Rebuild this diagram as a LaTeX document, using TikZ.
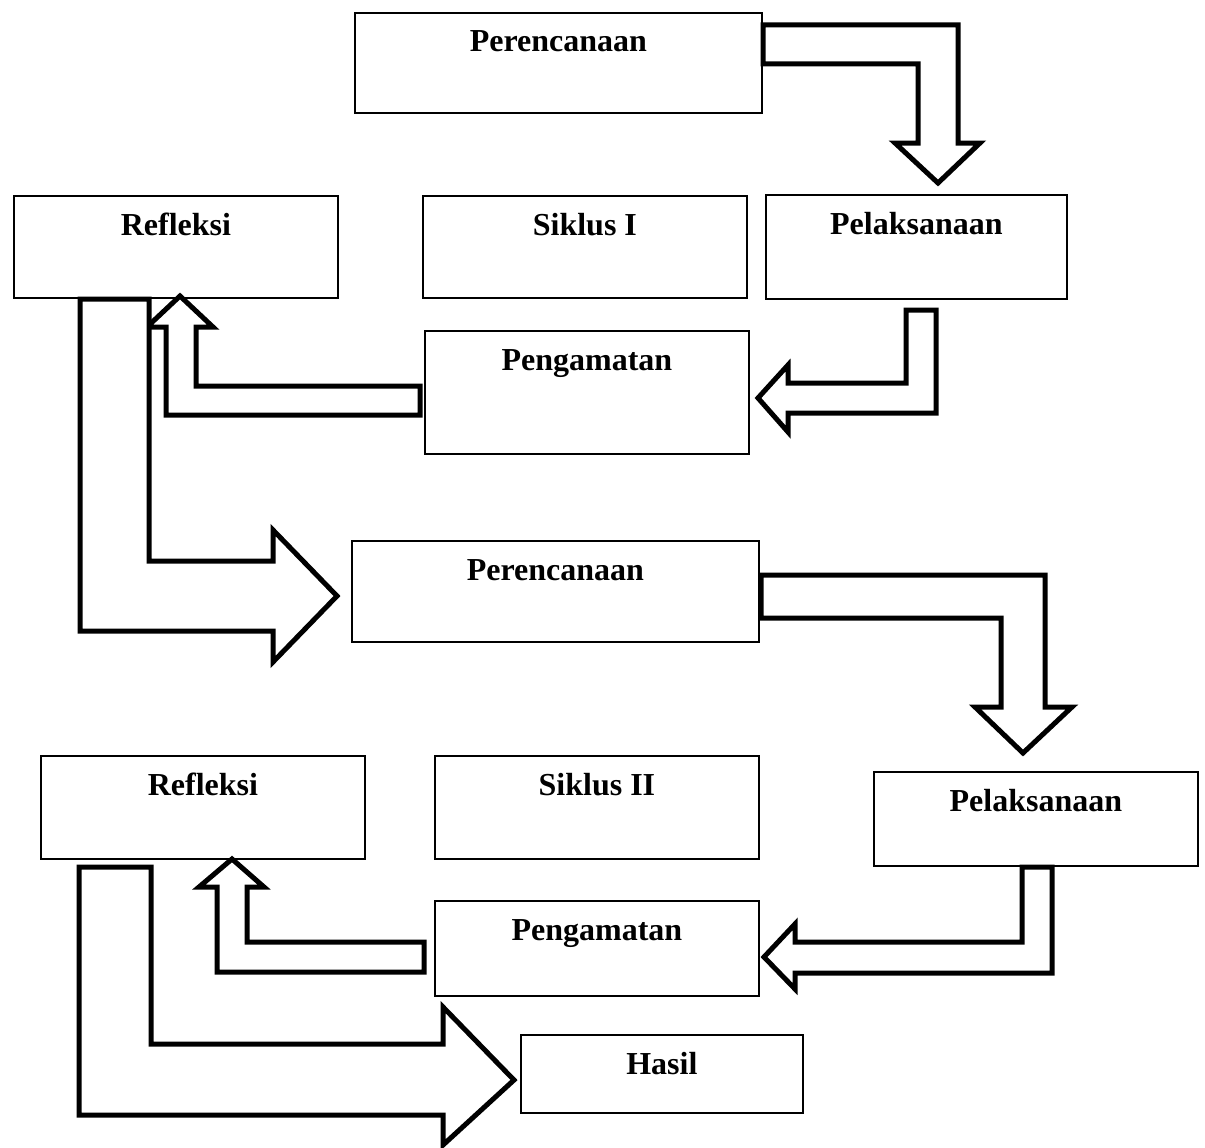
\documentclass[tikz,border=0pt]{standalone}
\usepackage{fontspec}
\setmainfont{Liberation Serif}
\begin{document}
\begin{tikzpicture}[x=1pt,y=-1pt,
  box/.style={draw, line width=1.8pt, rectangle, inner sep=0pt, anchor=north west},
  lbl/.style={anchor=base, yshift=-40pt, inner sep=0pt, font=\bfseries\fontsize{32}{38}\selectfont},
  blockarrow/.style={draw, line width=5pt, fill=white, line join=miter, miter limit=10}]
\useasboundingbox (0,0) rectangle (1205,1148);
% boxes
\node[box, minimum width=407pt, minimum height=100pt, label={[lbl]north:Perencanaan}] (p1) at (354,12) {};
\node[box, minimum width=324pt, minimum height=102pt, label={[lbl]north:Refleksi}] (r1) at (13,195) {};
\node[box, minimum width=324pt, minimum height=102pt, label={[lbl]north:Siklus I}] (s1) at (422,195) {};
\node[box, minimum width=301pt, minimum height=104pt, label={[lbl]north:Pelaksanaan}] (l1) at (765,194) {};
\node[box, minimum width=324pt, minimum height=123pt, label={[lbl]north:Pengamatan}] (g1) at (424,330) {};
\node[box, minimum width=407pt, minimum height=101pt, label={[lbl]north:Perencanaan}] (p2) at (351,540) {};
\node[box, minimum width=324pt, minimum height=103pt, label={[lbl]north:Refleksi}] (r2) at (40,755) {};
\node[box, minimum width=324pt, minimum height=103pt, label={[lbl]north:Siklus II}] (s2) at (434,755) {};
\node[box, minimum width=324pt, minimum height=94pt, label={[lbl]north:Pelaksanaan}] (l2) at (873,771) {};
\node[box, minimum width=324pt, minimum height=95pt, label={[lbl]north:Pengamatan}] (g2) at (434,900) {};
\node[box, minimum width=282pt, minimum height=78pt, label={[lbl]north:Hasil}] (h) at (520,1034) {};
% block arrows
% A: Perencanaan -> Pelaksanaan
\draw[blockarrow] (763,25) -- (958,25) -- (958,143) -- (980,143) -- (938,183) -- (895,143) -- (918,143) -- (918,64) -- (763,64) -- cycle;
% B: Pelaksanaan -> Pengamatan
\draw[blockarrow] (936,310) -- (936,413) -- (788,413) -- (788,432) -- (758,398) -- (788,365) -- (788,383) -- (906,383) -- (906,310) -- cycle;
% C: Pengamatan -> Refleksi
\draw[blockarrow] (420,386) -- (196,386) -- (196,327) -- (213,327) -- (180,296) -- (147,327) -- (166,327) -- (166,415) -- (420,415) -- cycle;
% D: Refleksi -> Perencanaan (II)
\draw[blockarrow] (80,299) -- (149,299) -- (149,561) -- (273,561) -- (273,530) -- (337,596) -- (273,662) -- (273,631) -- (80,631) -- cycle;
% E: Perencanaan -> Pelaksanaan (II)
\draw[blockarrow] (761,575) -- (1045,575) -- (1045,707) -- (1072,707) -- (1023,753) -- (975,707) -- (1001,707) -- (1001,618) -- (761,618) -- cycle;
% F: Pelaksanaan -> Pengamatan (II)
\draw[blockarrow] (1052,867) -- (1052,973) -- (795,973) -- (795,989) -- (764,957) -- (795,924) -- (795,942) -- (1022,942) -- (1022,867) -- cycle;
% G: Pengamatan -> Refleksi (II)
\draw[blockarrow] (424,942) -- (247,942) -- (247,887) -- (264,887) -- (232,859) -- (199,887) -- (217,887) -- (217,972) -- (424,972) -- cycle;
% H: Refleksi -> Hasil
\draw[blockarrow] (79,867) -- (151,867) -- (151,1044) -- (443,1044) -- (443,1007) -- (514,1080) -- (443,1145) -- (443,1115) -- (79,1115) -- cycle;
\end{tikzpicture}
\end{document}
